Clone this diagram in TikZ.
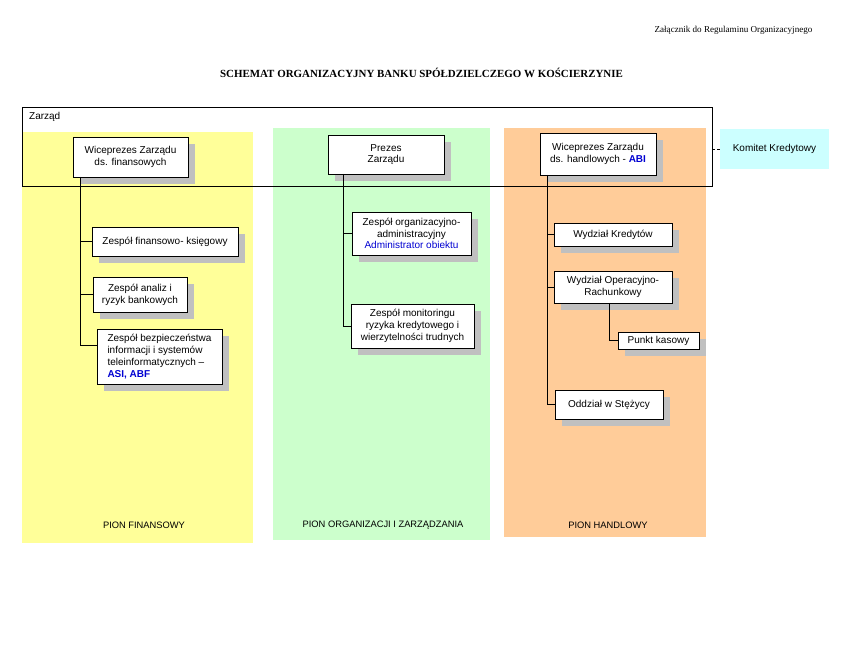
\documentclass[tikz,border=0pt]{standalone}
\usepackage{fontspec}
\setmainfont{Liberation Sans}
\newfontfamily\timesfont{Liberation Serif}
\usetikzlibrary{positioning, shadows}
\definecolor{pionfin}{RGB}{255,255,153}
\definecolor{pionorg}{RGB}{204,255,204}
\definecolor{pionhan}{RGB}{255,204,153}
\definecolor{komcyan}{RGB}{204,255,255}
\definecolor{shadowgray}{RGB}{192,192,192}
\definecolor{abiblue}{RGB}{0,0,210}
\newcommand{\bl}[1]{\textcolor{abiblue}{\bfseries #1}}

\begin{document}
\begin{tikzpicture}[x=0.75pt,y=-0.75pt,
	font=\fontsize{7.5}{8.8}\selectfont,
	unit/.style={draw, line width=0.65pt, fill=white, align=center, inner sep=1pt,
		drop shadow={shadow xshift=5pt, shadow yshift=-5pt, fill=shadowgray, opacity=1}},
	pion/.style={font=\fontsize{7}{8}\selectfont},
	link/.style={line width=0.65pt}]
			\useasboundingbox (0,0) rectangle (850,659);
			% pions
			\fill[pionfin] (22,132) rectangle (253,543);
			\fill[pionorg] (273,128) rectangle (490,540);
			\fill[pionhan] (504,128) rectangle (706,537);
			\node[pion] (pf) at (144,525) {PION FINANSOWY};
			\node[pion] (po) at (383,525) {PION ORGANIZACJI I ZARZĄDZANIA};
			\node[pion] (ph) at (608,525) {PION HANDLOWY};
			% headings
			\node[font=\timesfont\fontsize{6.8}{8}\selectfont] (zal) at (733.5,30) {Załącznik do Regulaminu Organizacyjnego};
			\node[font=\timesfont\bfseries\fontsize{8.2}{10}\selectfont] (title) at (421.5,73) {SCHEMAT ORGANIZACYJNY BANKU SPÓŁDZIELCZEGO W KOŚCIERZYNIE};
			% zarzad
			\node[draw, line width=0.65pt, minimum width=517.5pt, minimum height=59.25pt] (zarzad) at (367,146.5) {};
			\node[anchor=north west, inner xsep=5.5pt, inner ysep=4pt] (zlab) at (zarzad.north west) {Zarząd};
			\node[fill=komcyan, minimum width=81.75pt, minimum height=30pt] (kom) at (774.5,149) {Komitet Kredytowy};
			% units
			\node[unit, minimum width=86.25pt, minimum height=30pt] (vpf) at (130.5,157) {Wiceprezes Zarządu\\ds. finansowych};
			\node[unit, minimum width=109.5pt, minimum height=21.75pt] (zfk) at (165,241.5) {Zespół finansowo- księgowy};
			\node[unit, minimum width=70.5pt, minimum height=26.25pt] (zar) at (140,294.5) {Zespół analiz i\\ryzyk bankowych};
			\node[unit, align=left, minimum width=93.75pt, minimum height=41.25pt] (zbi) at (159.5,356.5) {Zespół bezpieczeństwa\\informacji i systemów\\teleinformatycznych –\\\bl{ASI, ABF}};
			\node[unit, minimum width=87pt, minimum height=29.25pt] (prez) at (386,154.5) {Prezes\\Zarządu};
			\node[unit, minimum width=89.25pt, minimum height=32.25pt] (zoa) at (411.5,233.5) {Zespół organizacyjno-\\administracyjny\\\textcolor{abiblue}{Administrator obiektu}};
			\node[unit, minimum width=92.25pt, minimum height=33pt] (zmr) at (412.5,326) {Zespół monitoringu\\ryzyka kredytowego i\\wierzytelności trudnych};
			\node[unit, minimum width=87pt, minimum height=31.5pt] (vph) at (598,154) {Wiceprezes Zarządu\\ds. handlowych - \bl{ABI}};
			\node[unit, minimum width=88.5pt, minimum height=17.25pt] (wk) at (613,234.5) {Wydział Kredytów};
			\node[unit, minimum width=88.5pt, minimum height=24pt] (wor) at (613,287) {Wydział Operacyjno-\\Rachunkowy};
			\node[unit, minimum width=60.75pt, minimum height=12.75pt] (pk) at (658.5,340.5) {Punkt kasowy};
			\node[unit, minimum width=81pt, minimum height=21.75pt] (ows) at (609,404.5) {Oddział w Stężycy};
			% links
			\coordinate (spf) at (80,177);
			\coordinate (ef) at (80,345);
			\coordinate (spo) at (343,174);
			\coordinate (sph) at (547,175);
			\coordinate (swo) at (609,303);
			\draw[link] (spf) -- (ef) -- (ef -| zbi.west);
			\draw[link] (zfk.west) -- (zfk.west -| spf);
			\draw[link] (zar.west) -- (zar.west -| spf);
			\draw[link] (spo) |- (zmr.west);
			\draw[link] (zoa.west) -- (zoa.west -| spo);
			\draw[link] (sph) |- (ows.west);
			\draw[link] (wk.west) -- (wk.west -| sph);
			\draw[link] (wor.west) -- (wor.west -| sph);
			\draw[link] (swo) |- (pk.west);
			\draw[link, dash pattern=on 2pt off 1.5pt] (zarzad.east |- kom) -- (kom);
		\end{tikzpicture}
\end{document}
